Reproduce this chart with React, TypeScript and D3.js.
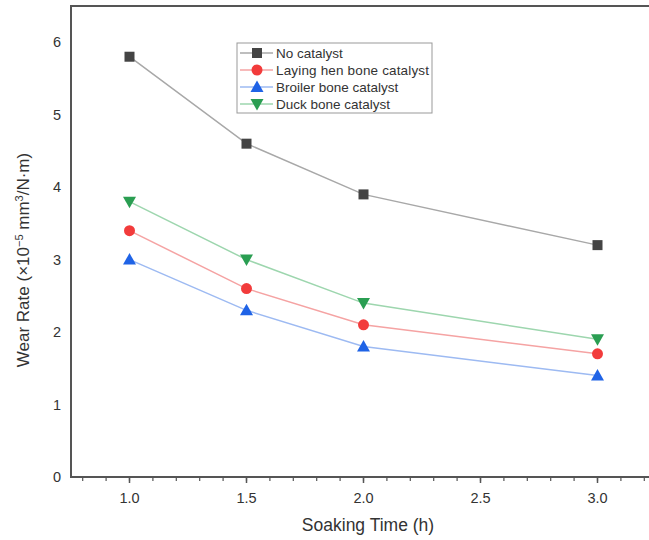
import React from "react";
import * as d3 from "d3";

const times = [1.0, 1.5, 2.0, 3.0];
const noCatalyst = [5.8, 4.6, 3.9, 3.2];
const layingHen = [3.4, 2.6, 2.1, 1.7];
const broiler = [3.0, 2.3, 1.8, 1.4];
const duck = [3.8, 3.0, 2.4, 1.9];
const seriesNames = ["No catalyst", "Laying hen bone catalyst", "Broiler bone catalyst", "Duck bone catalyst"];
const xTickValues = [1.0, 1.5, 2.0, 2.5, 3.0];
const yTickValues = [0, 1, 2, 3, 4, 5, 6];

const W = 649, H = 540;
const left = 71, right = 656, top = 6, bottom = 477;
const font = "'Liberation Sans', Arial, sans-serif";

const styles = [
  { marker: "#444444", line: "#a8a8a8", shape: "square" },
  { marker: "#f23b3b", line: "#f5a3a3", shape: "circle" },
  { marker: "#1f63e6", line: "#9dbaf2", shape: "up" },
  { marker: "#2a9e52", line: "#9dd6ae", shape: "down" },
];

function Marker({ shape, color, x, y }: { shape: string; color: string; x: number; y: number }) {
  if (shape === "square") return <rect x={x - 5} y={y - 5} width={10} height={10} fill={color} />;
  if (shape === "circle") return <circle cx={x} cy={y} r={5.5} fill={color} />;
  if (shape === "up") return <path d={`M${x},${y - 6.5} L${x + 6.5},${y + 5} L${x - 6.5},${y + 5} Z`} fill={color} />;
  return <path d={`M${x},${y + 6.5} L${x + 6.5},${y - 5} L${x - 6.5},${y - 5} Z`} fill={color} />;
}

export default function App() {
  const x = d3.scaleLinear().domain([0.75, 3.25]).range([left, right]);
  const y = d3.scaleLinear().domain([0, 6.5]).range([bottom, top]);
  const data = [noCatalyst, layingHen, broiler, duck];
  const line = d3.line<number>().x((_, i) => x(times[i])).y((d) => y(d));
  const minor = d3.range(8, 33).map((v) => v / 10).filter((v) => x(v) <= W);

  return (
    <svg width={W} height={H} style={{ position: "absolute", left: 0, top: 0, background: "#fff" }}>
      {/* frame */}
      <line x1={left} y1={top} x2={W} y2={top} stroke="#555" strokeWidth={2} />
      <line x1={left} y1={top - 1} x2={left} y2={bottom + 1} stroke="#555" strokeWidth={2} />
      <line x1={left - 1} y1={bottom} x2={W} y2={bottom} stroke="#555" strokeWidth={2} />
      {/* x ticks */}
      {minor.map((v) => (
        <line key={"m" + v} x1={x(v)} x2={x(v)} y1={bottom} y2={bottom + 4} stroke="#555" strokeWidth={1.2} />
      ))}
      {xTickValues.map((v) => (
        <g key={"x" + v}>
          <line x1={x(v)} x2={x(v)} y1={bottom} y2={bottom + 6} stroke="#555" strokeWidth={1.5} />
          <text x={x(v)} y={bottom + 26} textAnchor="middle" fontFamily={font} fontSize={14.5} fill="#333">
            {v.toFixed(1)}
          </text>
        </g>
      ))}
      {yTickValues.map((v) => (
        <text key={"y" + v} x={left - 10} y={y(v) + 5} textAnchor="end" fontFamily={font} fontSize={14.5} fill="#333">
          {v}
        </text>
      ))}
      <text x={368} y={531} textAnchor="middle" fontFamily={font} fontSize={17.5} fill="#333">
        Soaking Time (h)
      </text>
      <text
        transform={`translate(29, 260) rotate(-90)`}
        textAnchor="middle"
        fontFamily={font}
        fontSize={17}
        fill="#333"
      >
        Wear Rate (×10<tspan dy={-6} fontSize={11}>−5</tspan>
        <tspan dy={6}> mm</tspan>
        <tspan dy={-6} fontSize={11}>3</tspan>
        <tspan dy={6}>/N·m)</tspan>
      </text>
      {/* series */}
      {data.map((vals, si) => (
        <g key={"s" + si}>
          <path d={line(vals) || ""} fill="none" stroke={styles[si].line} strokeWidth={1.5} />
          {vals.map((v, i) => (
            <Marker key={i} shape={styles[si].shape} color={styles[si].marker} x={x(times[i])} y={y(v)} />
          ))}
        </g>
      ))}
      {/* legend */}
      <rect x={237} y={43} width={195} height={70} fill="#fff" stroke="#999" strokeWidth={1} />
      {seriesNames.map((name, i) => {
        const ly = 53 + i * 17;
        return (
          <g key={"l" + i}>
            <line x1={240} x2={273} y1={ly} y2={ly} stroke={styles[i].line} strokeWidth={1.5} />
            <Marker shape={styles[i].shape} color={styles[i].marker} x={257} y={ly} />
            <text x={276} y={ly + 5} fontFamily={font} fontSize={13.5} fill="#333" textLength={name === "Laying hen bone catalyst" ? 153 : undefined}>
              {name}
            </text>
          </g>
        );
      })}
    </svg>
  );
}
